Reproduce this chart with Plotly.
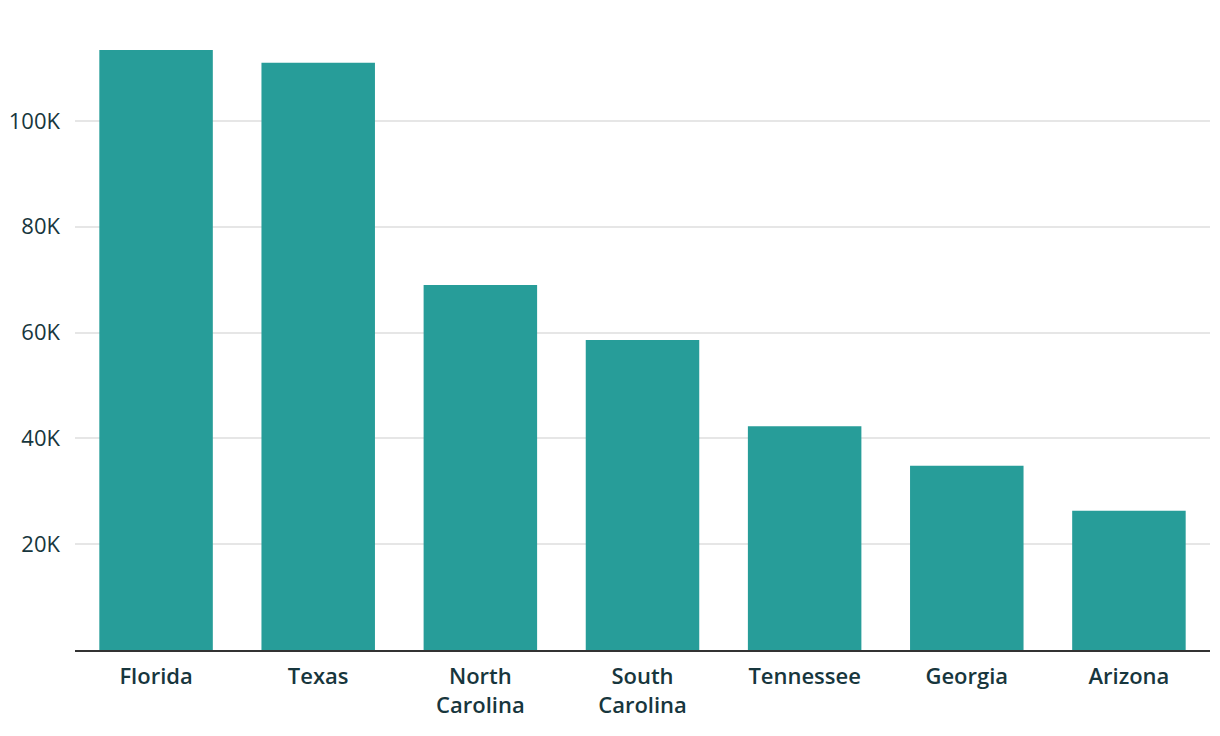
import plotly.graph_objects as go

# Data
states = ["Florida", "Texas", "North<br>Carolina", "South<br>Carolina",
          "Tennessee", "Georgia", "Arizona"]
values = [113400, 111000, 69000, 58600, 42300, 34800, 26300]
tick_vals = [20000, 40000, 60000, 80000, 100000]
tick_text = ["20K", "40K", "60K", "80K", "100K"]

bar_color = "#279d99"
text_color = "#17363d"

fig = go.Figure(go.Bar(
    x=states, y=values,
    marker=dict(color=bar_color, line=dict(width=0)),
    hoverinfo="x+y",
))

# page body has an 8px margin, so the figure is shrunk to fit the window
fig.update_layout(
    width=1212, height=728,
    margin=dict(l=67, r=10, t=42, b=86),
    plot_bgcolor="white", paper_bgcolor="white",
    bargap=0.3,
    showlegend=False,
    font=dict(family="Open Sans, sans-serif", color=text_color, size=22),
    xaxis=dict(
        automargin=False,
        showgrid=False,
        showline=True, linecolor="#333333", linewidth=2,
        ticks="", ticklabelstandoff=6,
        tickfont=dict(size=22, family="Open Sans, sans-serif", weight=600),
    ),
    yaxis=dict(
        automargin=False,
        range=[0, 113400],
        tickvals=tick_vals, ticktext=tick_text,
        showgrid=True, gridcolor="#e6e6e6", gridwidth=1.5,
        zeroline=False, showline=False, ticks="",
        ticklabelstandoff=14,
        tickfont=dict(size=22),
    ),
)

fig.write_html("out.html")
